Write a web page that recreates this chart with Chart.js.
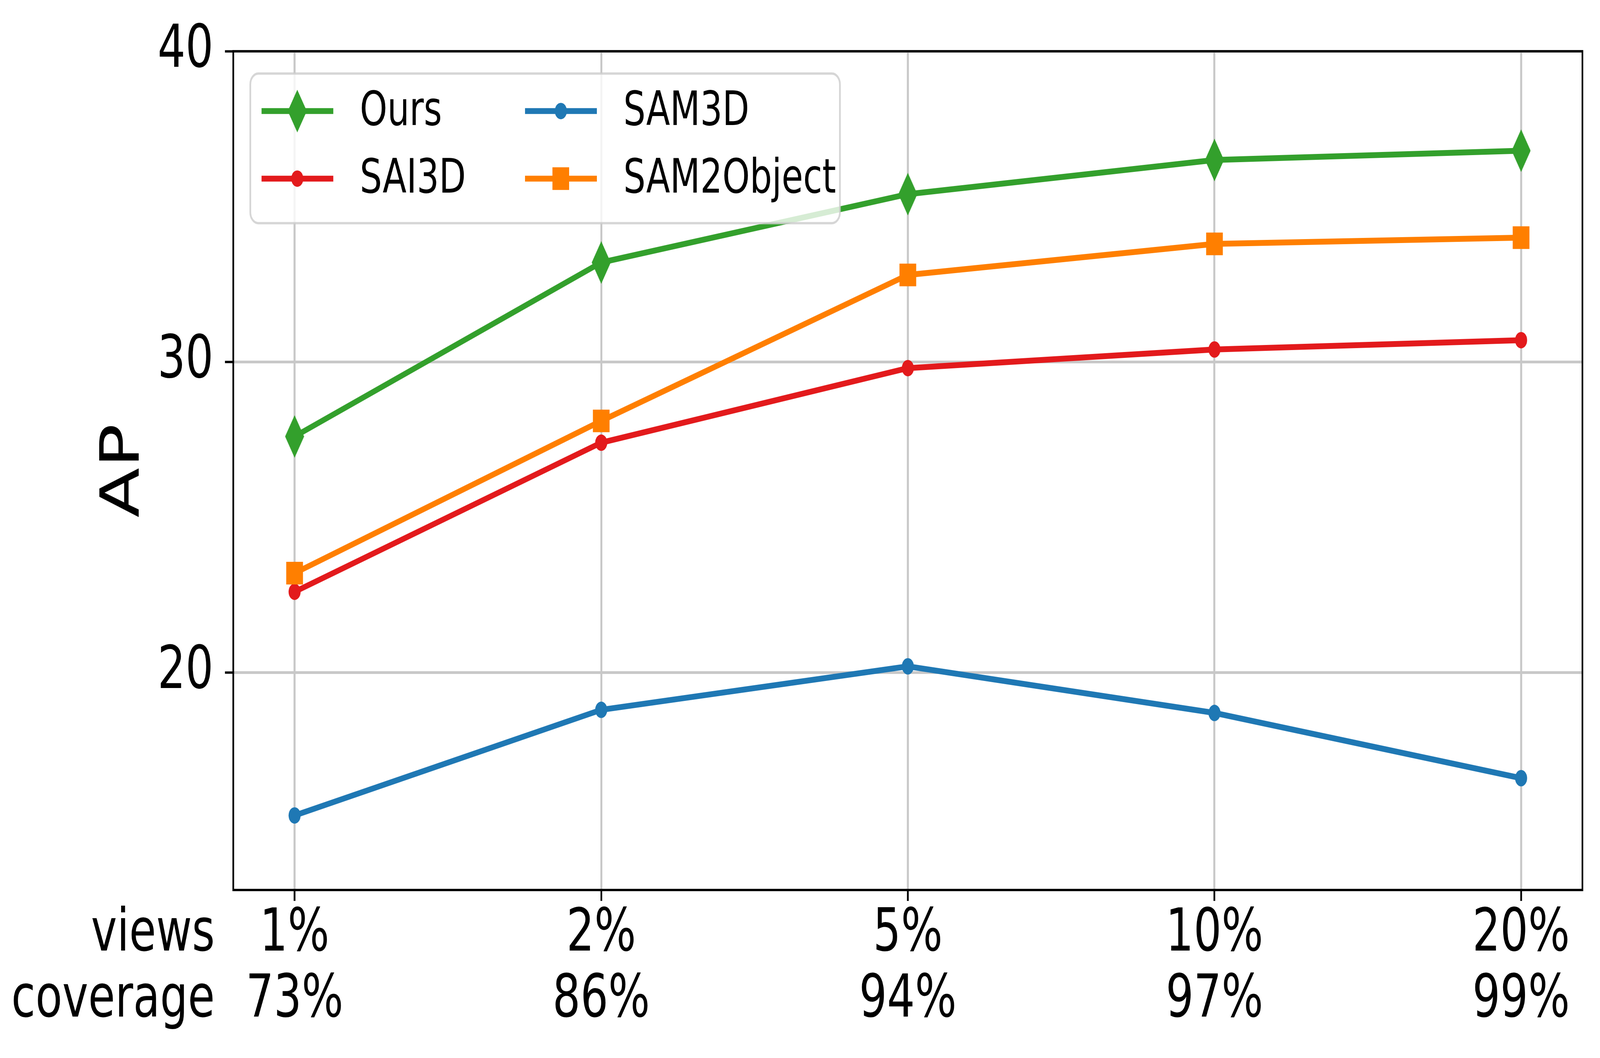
<!DOCTYPE html>
<html>
<head>
<meta charset="utf-8">
<script src="https://cdn.jsdelivr.net/npm/chart.js@4.4.1/dist/chart.umd.min.js"></script>
<style>
  html, body { margin: 0; padding: 0; background: #fff; overflow: hidden; }
</style>
</head>
<body>
<canvas id="apChart" width="5549" height="2708" style="display:block;width:100vw;height:100vh;"></canvas>
<script>
(function () {
    'use strict';

    // x categories (two-line tick labels)
    const viewLabels = ['1%', '2%', '5%', '10%', '20%'];
    const coverageLabels = ['73%', '86%', '94%', '97%', '99%'];

    // AP per method
    const oursAP = [27.6, 33.2, 35.4, 36.5, 36.8];
    const sai3dAP = [22.6, 27.4, 29.8, 30.4, 30.7];
    const sam3dAP = [15.4, 18.8, 20.2, 18.7, 16.6];
    const sam2objectAP = [23.2, 28.1, 32.8, 33.8, 34.0];

    const yTicks = [20, 30, 40];

    const FONT = "'DejaVu Sans', sans-serif";
    const GREEN = '#33a02c', RED = '#e31a1c', BLUE = '#1f78b4', ORANGE = '#ff7f00';

    // matplotlib-style thin diamond marker
    function thinDiamond(w, h, color) {
        const c = document.createElement('canvas');
        c.width = w; c.height = h;
        const g = c.getContext('2d');
        g.fillStyle = color;
        g.beginPath();
        g.moveTo(w / 2, 0);
        g.lineTo(w, h / 2);
        g.lineTo(w / 2, h);
        g.lineTo(0, h / 2);
        g.closePath();
        g.fill();
        return c;
    }
    const diamondImg = thinDiamond(66, 109, GREEN);

    const toPoints = arr => arr.map((v, i) => ({ x: i, y: v }));

    const series = [
        { label: 'Ours', data: oursAP, color: GREEN, style: diamondImg, radius: 33, order: 4 },
        { label: 'SAI3D', data: sai3dAP, color: RED, style: 'circle', radius: 21, order: 3 },
        { label: 'SAM3D', data: sam3dAP, color: BLUE, style: 'circle', radius: 21, order: 2 },
        { label: 'SAM2Object', data: sam2objectAP, color: ORANGE, style: 'rect', radius: 41, order: 1 }
    ];

    const datasets = series.map(s => ({
        label: s.label,
        data: toPoints(s.data),
        borderColor: s.color,
        backgroundColor: s.color,
        borderWidth: 15,
        pointStyle: s.style,
        pointRadius: s.radius,
        pointBorderWidth: 0,
        pointBackgroundColor: s.color,
        tension: 0,
        order: s.order
    }));

    function drawMarker(ctx, s, x, y) {
        ctx.fillStyle = s.color;
        if (s.style === 'circle') {
            ctx.beginPath();
            ctx.arc(x, y, 21, 0, Math.PI * 2);
            ctx.fill();
        } else if (s.style === 'rect') {
            ctx.fillRect(x - 29, y - 29, 58, 58);
        } else {
            ctx.drawImage(s.style, x - s.style.width / 2, y - s.style.height / 2);
        }
    }

    const extrasPlugin = {
        id: 'extras',
        afterDraw(chart) {
            const ctx = chart.ctx;
            const area = chart.chartArea;
            ctx.save();

            // legend (2 columns, column-major), semi-transparent like matplotlib
            const bx = area.left + 59, by = area.top + 57, bw = 2045, bh = 383, r = 28;
            ctx.beginPath();
            ctx.moveTo(bx + r, by);
            ctx.arcTo(bx + bw, by, bx + bw, by + bh, r);
            ctx.arcTo(bx + bw, by + bh, bx, by + bh, r);
            ctx.arcTo(bx, by + bh, bx, by, r);
            ctx.arcTo(bx, by, bx + bw, by, r);
            ctx.closePath();
            ctx.fillStyle = 'rgba(255,255,255,0.8)';
            ctx.fill();
            ctx.lineWidth = 6;
            ctx.strokeStyle = 'rgba(204,204,204,0.8)';
            ctx.stroke();

            const cols = [area.left + 98, area.left + 1012];
            const rows = [area.top + 153, area.top + 326];
            const slots = [[0, 0], [0, 1], [1, 0], [1, 1]];
            ctx.font = '121px ' + FONT;
            ctx.textAlign = 'left';
            ctx.textBaseline = 'middle';
            series.forEach((s, i) => {
                const [c, rr] = slots[i];
                const x0 = cols[c], y0 = rows[rr];
                ctx.strokeStyle = s.color;
                ctx.lineWidth = 15;
                ctx.beginPath();
                ctx.moveTo(x0, y0);
                ctx.lineTo(x0 + 249, y0);
                ctx.stroke();
                drawMarker(ctx, s, x0 + 124, y0);
                ctx.fillStyle = '#000';
                ctx.fillText(s.label, x0 + 341, y0 + 4);
            });

            // axes frame
            ctx.strokeStyle = '#000';
            ctx.lineWidth = 6;
            ctx.strokeRect(area.left, area.top, area.right - area.left, area.bottom - area.top);

            // row captions left of the x tick labels
            const lh = 152 * 1.11;
            const yFirst = chart.scales.x.top + 28 + 3 + lh / 2;
            ctx.font = '152px ' + FONT;
            ctx.fillStyle = '#000';
            ctx.textAlign = 'right';
            ctx.textBaseline = 'middle';
            ctx.fillText('views', area.left - 64, yFirst);
            ctx.fillText('coverage', area.left - 64, yFirst + lh);
            ctx.restore();
        }
    };

    const ctx = document.getElementById('apChart').getContext('2d');
    new Chart(ctx, {
        type: 'line',
        data: { datasets: datasets },
        plugins: [extrasPlugin],
        options: {
            responsive: false,
            devicePixelRatio: 1,
            animation: false,
            layout: { padding: { left: 0, right: 61, top: 118, bottom: 0 } },
            plugins: {
                legend: { display: false },
                tooltip: { enabled: false }
            },
            scales: {
                x: {
                    type: 'linear',
                    min: -0.2,
                    max: 4.2,
                    afterBuildTicks: scale => { scale.ticks = viewLabels.map((_, i) => ({ value: i })); },
                    afterFit: scale => { scale.height = 430; },
                    ticks: {
                        callback: v => [viewLabels[v], coverageLabels[v]],
                        font: { family: FONT, size: 152, lineHeight: 1.11 },
                        color: '#000',
                        padding: 3,
                        maxRotation: 0,
                        autoSkip: false
                    },
                    grid: { color: '#c8c8c8', lineWidth: 7, tickColor: '#000', tickWidth: 6, tickLength: 28 },
                    border: { display: false }
                },
                y: {
                    min: 13,
                    max: 40,
                    afterBuildTicks: scale => { scale.ticks = yTicks.map(v => ({ value: v })); },
                    afterFit: scale => { scale.width = 809; },
                    ticks: {
                        font: { family: FONT, size: 152 },
                        color: '#000',
                        padding: 40
                    },
                    grid: { color: '#c8c8c8', lineWidth: 7, tickColor: '#000', tickWidth: 6, tickLength: 29 },
                    border: { display: false },
                    title: {
                        display: true,
                        text: 'AP',
                        font: { family: FONT, size: 187 },
                        color: '#000',
                        padding: { top: 320, bottom: 0 }
                    }
                }
            }
        }
    });
})();
</script>
</body>
</html>
